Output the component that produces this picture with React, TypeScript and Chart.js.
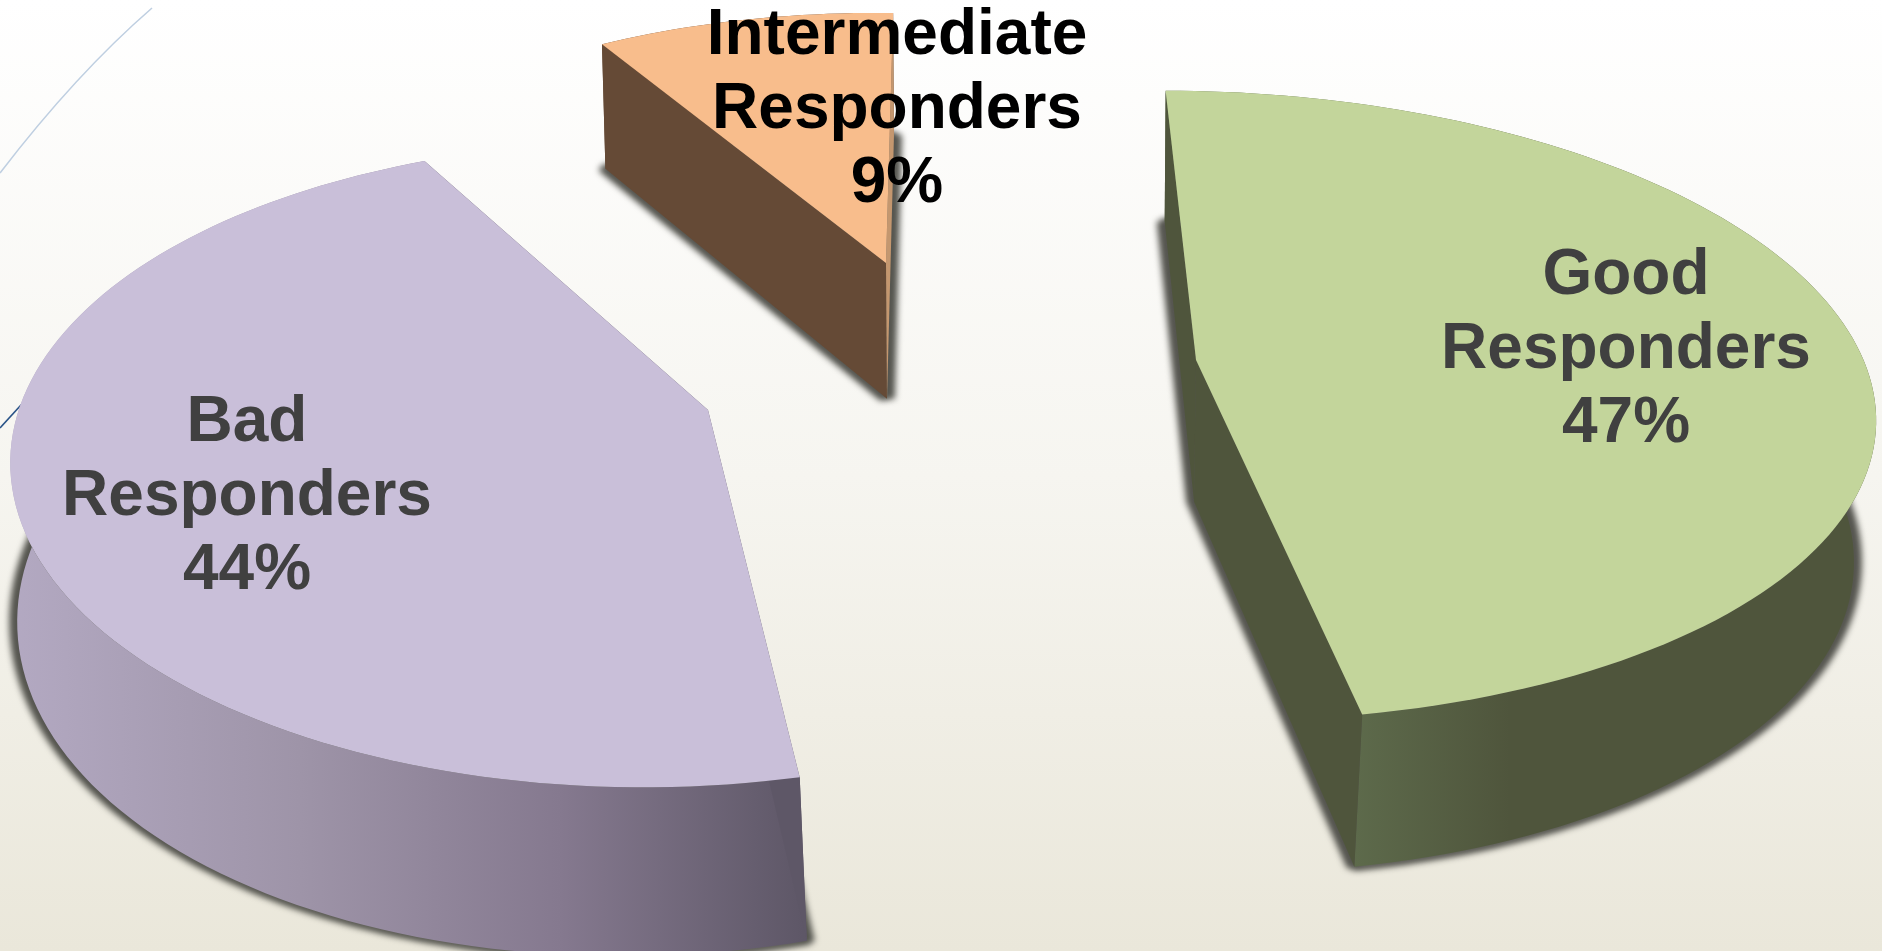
import React, { useEffect, useRef } from "react";
import { Chart, registerables } from "chart.js";

Chart.register(...registerables);

const categories = ["Good Responders", "Bad Responders", "Intermediate Responders"];
const labelLines = [["Good", "Responders"], ["Bad", "Responders"], ["Intermediate", "Responders"]];
const shares = [47, 44, 9];
const topColors = ["#C3D59B", "#C9BFD9", "#F8BD8C"];
const labelColors = ["#404040", "#404040", "#000000"];
const firstSliceRotation = -2;

const WIDTH = 1882;
const HEIGHT = 951;

// Perspective view of each exploded slice: apex position, disc axes, the
// extrusion of the side walls, and how the view turns and foreshortens the sweep.
const sliceViews = [
  { cx: 1196, cy: 360, a: 673, b: 0, d: 15, e: 308, k: 0.145, g: 0, gx: -2, dz: 146, m: 0.03, turn: -0.2, sweep: 1.009,
    rim: [[1355, "#5D6A4B"], [1510, "#4F553C"], [1860, "#4F553C"]], startFace: "#4F553C", endFace: "#4F553C",
    labelX: 1626, labelY: 294 },
  { cx: 708, cy: 410, a: 612, b: 0, d: 8, e: 311, k: 0.172, g: 0.108, gx: 6, dz: 138, m: 0, turn: 4.75, sweep: 0.99,
    rim: [[10, "#B3A9C2"], [300, "#9E94A8"], [560, "#85798F"], [803, "#5E5767"]], startFace: "#5E5767", endFace: "#5E5767",
    labelX: 247, labelY: 441 },
  { cx: 886, cy: 263, a: 599, b: -29, d: 17, e: 282, k: 0.13, g: 0, gx: 1, dz: 137, m: 0.01, turn: 0, sweep: 1,
    rim: [[600, "#654A36"], [900, "#654A36"]], startFace: "#654A36", endFace: "#C4976F",
    labelX: 897, labelY: 54 },
];

type View = (typeof sliceViews)[number];

function project(view: View, u: number, v: number, z: number) {
  const w = 1 - view.k * v + view.g * u + view.m * z;
  return {
    x: view.cx + (view.a * u + view.b * v + view.gx * z) / w,
    y: view.cy + (view.d * u + view.e * v + view.dz * z) / w,
  };
}

function rimPoints(view: View, startAngle: number, endAngle: number, z: number) {
  const mid = (startAngle + endAngle) / 2;
  const half = ((endAngle - startAngle) / 2) * view.sweep;
  const start = mid + (view.turn * Math.PI) / 180 - half;
  const steps = Math.max(12, Math.round(half * 80));
  const pts = [];
  for (let i = 0; i <= steps; i++) {
    const t = start + (2 * half * i) / steps;
    pts.push(project(view, Math.cos(t), Math.sin(t), z));
  }
  return pts;
}

function trace(ctx: CanvasRenderingContext2D, pts: { x: number; y: number }[]) {
  ctx.beginPath();
  pts.forEach((p, i) => (i ? ctx.lineTo(p.x, p.y) : ctx.moveTo(p.x, p.y)));
  ctx.closePath();
}

const perspectivePie = {
  id: "perspectivePie",
  beforeDraw(chart: Chart) {
    const ctx = chart.ctx;
    const bg = ctx.createLinearGradient(0, 0, 0, HEIGHT);
    bg.addColorStop(0, "#FFFFFF");
    bg.addColorStop(0.5, "#F6F5F0");
    bg.addColorStop(1, "#EAE7DA");
    ctx.fillStyle = bg;
    ctx.fillRect(0, 0, WIDTH, HEIGHT);

    // Backdrop swooshes in the upper-left corner.
    ctx.lineWidth = 1.6;
    ctx.strokeStyle = "#BFCFE1";
    ctx.beginPath();
    ctx.moveTo(152, 8);
    ctx.quadraticCurveTo(76, 74, 0, 173);
    ctx.stroke();
    ctx.strokeStyle = "#2A5488";
    ctx.beginPath();
    ctx.moveTo(32, 393);
    ctx.lineTo(0, 428);
    ctx.stroke();
  },
  beforeDatasetsDraw(chart: Chart) {
    const ctx = chart.ctx;
    const arcs = chart.getDatasetMeta(0).data as any[];

    // Soft shadow of each slice's underside, wider sideways than downwards.
    arcs.forEach((arc, i) => {
      const view = sliceViews[i];
      const bottom = [project(view, 0, 0, 1), ...rimPoints(view, arc.startAngle, arc.endAngle, 1)];
      ctx.save();
      ctx.filter = "blur(3px)";
      ctx.fillStyle = "#55554F";
      ctx.strokeStyle = "#55554F";
      ctx.lineWidth = 8;
      ctx.lineJoin = "bevel";
      trace(ctx, bottom);
      ctx.fill();
      ctx.scale(2, 1);
      ctx.stroke();
      ctx.restore();
    });

    arcs.forEach((arc, i) => {
      const view = sliceViews[i];
      const top = rimPoints(view, arc.startAngle, arc.endAngle, 0);
      const low = rimPoints(view, arc.startAngle, arc.endAngle, 1);
      const apex = project(view, 0, 0, 0);
      const apexLow = project(view, 0, 0, 1);

      const x0 = view.rim[0][0] as number;
      const x1 = view.rim[view.rim.length - 1][0] as number;
      const rimFill = ctx.createLinearGradient(x0, 0, x1, 0);
      view.rim.forEach(([x, c]) => rimFill.addColorStop(((x as number) - x0) / (x1 - x0), c as string));
      ctx.fillStyle = rimFill;
      trace(ctx, [...top, ...low.slice().reverse()]);
      ctx.fill();

      ctx.fillStyle = view.startFace;
      trace(ctx, [apex, top[0], low[0], apexLow]);
      ctx.fill();
      ctx.fillStyle = view.endFace;
      trace(ctx, [apex, top[top.length - 1], low[low.length - 1], apexLow]);
      ctx.fill();

      ctx.fillStyle = arc.options.backgroundColor;
      trace(ctx, [apex, ...top]);
      ctx.fill();
    });

    // Slice captions: name lines followed by the share.
    ctx.font = 'bold 64px "Liberation Sans", Arial, sans-serif';
    ctx.textAlign = "center";
    ctx.textBaseline = "alphabetic";
    labelLines.forEach((lines, i) => {
      const view = sliceViews[i];
      ctx.fillStyle = labelColors[i];
      [...lines, `${shares[i]}%`].forEach((line, n) => {
        ctx.fillText(line, view.labelX, view.labelY + n * 74);
      });
    });
    return false;
  },
};

export default function App() {
  const ref = useRef<HTMLCanvasElement>(null);
  useEffect(() => {
    const chart = new Chart(ref.current!, {
      type: "pie",
      data: {
        labels: categories,
        datasets: [{ data: shares, backgroundColor: topColors, borderWidth: 0 }],
      },
      options: {
        animation: false,
        responsive: false,
        rotation: firstSliceRotation,
        plugins: { legend: { display: false }, tooltip: { enabled: false } },
      },
      plugins: [perspectivePie],
    } as any);
    return () => chart.destroy();
  }, []);
  return (
    <div style={{ position: "fixed", left: 0, top: 0, width: WIDTH, height: HEIGHT, overflow: "hidden" }}>
      <canvas ref={ref} width={WIDTH} height={HEIGHT} style={{ display: "block" }} />
    </div>
  );
}
